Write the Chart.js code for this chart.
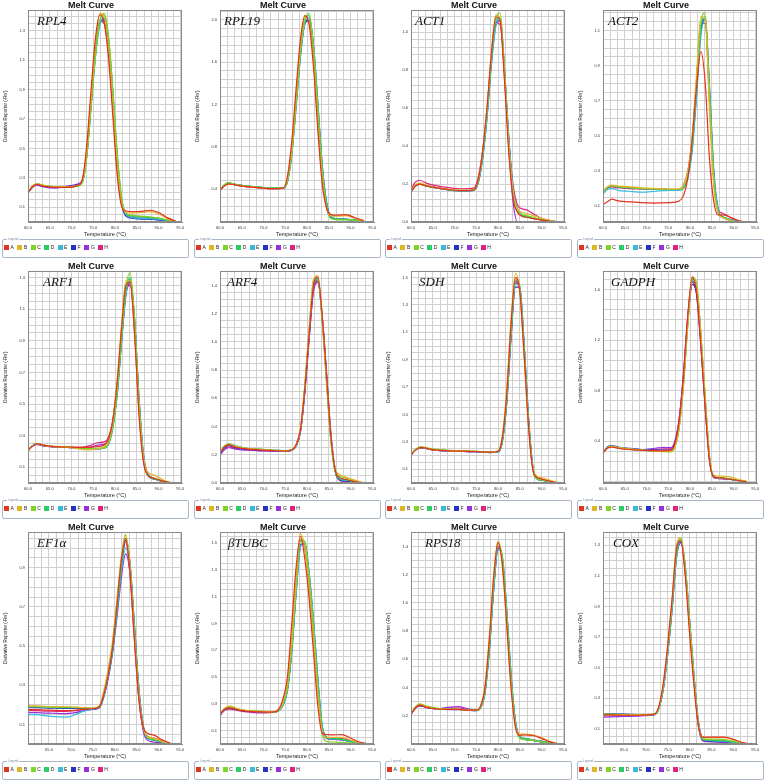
<!DOCTYPE html>
<html>
<head>
<meta charset="utf-8">
<script src="https://cdn.jsdelivr.net/npm/chart.js@4.4.0/dist/chart.umd.min.js"></script>
<style>
body{margin:0;background:#fff;width:766px;height:784px;position:relative;overflow:hidden;font-family:"Liberation Sans",Arial,sans-serif}
.panel{position:absolute;width:191px;height:261px}
.panel canvas{position:absolute;left:0;top:0}
.legend{position:absolute;left:2px;top:239px;width:187px;height:19px;border:1px solid #a9b7c6;border-radius:2px;box-sizing:border-box}
.legend .cap{position:absolute;left:4px;top:-3px;font-size:3px;line-height:4px;color:#7a8a9a;background:#fff;padding:0 1px}
.legend .item{position:absolute;top:5px;font-size:5px;line-height:5px;color:#222;white-space:nowrap}
.legend .sw{display:inline-block;width:5px;height:5px;vertical-align:top;margin-right:1.5px}
</style>
</head>
<body>
<script>
// ---- wells ----
const wellNames = ['A','B','C','D','E','F','G','H'];
const wellColors = ['#e3321e','#e2b526','#7fd425','#2fca68','#36bbdc','#2133c4','#982fdc','#e0237f'];

// ---- panels ----
const genes = ['RPL4','RPL19','ACT1','ACT2','ARF1','ARF4','SDH','GADPH','EF1α','βTUBC','RPS18','COX'];
const yMins = [0, 0.09, 0, 0.01, 0, 0, 0, 0.07, 0, 0, 0, 0];
const yMaxs = [1.44, 2.09, 1.115, 1.215, 1.34, 1.5, 1.545, 1.745, 1.08, 1.58, 1.5, 1.385];
const yGrid = [0.05, 0.08, 0.04, 0.05, 0.05, 0.05, 0.05, 0.08, 0.05, 0.05, 0.05, 0.05];
const yLabelFrom = [0.1, 0.4, 0, 0.1, 0.1, 0, 0.1, 0.4, 0.1, 0.1, 0.2, 0.1];
const yLabelStep = [0.2, 0.4, 0.2, 0.2, 0.2, 0.2, 0.2, 0.4, 0.2, 0.2, 0.2, 0.2];
const xMins = [60, 60, 60, 60, 60, 60, 60, 60, 60.2, 60, 60, 60.2];
const xMax = 95.4;
const xGrid = 5 / 3;
const xTickLabels = [60, 65, 70, 75, 80, 85, 90, 95];

// ---- melt curves (temperature °C, derivative reporter per well A..H) ----
const tempRPL4 = [60,61,62,63.5,66,69,71.5,72.5,73.5,74.5,75.5,76.5,77.5,78.5,79.5,80.5,81.5,82.5,84,86,88,90,92,94];
const wellsRPL4 = [
  [0.20,0.24,0.255,0.245,0.235,0.235,0.25,0.29,0.52,0.90,1.25,1.41,1.36,1.12,0.72,0.32,0.11,0.075,0.07,0.072,0.08,0.065,0.03,0.005],
  [0.205,0.245,0.26,0.25,0.24,0.24,0.25,0.28,0.48,0.85,1.22,1.42,1.40,1.18,0.80,0.38,0.13,0.065,0.06,0.065,0.07,0.055,0.025,0.004],
  [0.20,0.24,0.26,0.25,0.24,0.235,0.245,0.27,0.44,0.78,1.13,1.36,1.42,1.27,0.90,0.47,0.17,0.06,0.045,0.04,0.035,0.028,0.014,0.0],
  [0.20,0.24,0.26,0.25,0.24,0.235,0.245,0.27,0.45,0.80,1.15,1.37,1.41,1.25,0.88,0.45,0.16,0.06,0.04,0.035,0.03,0.025,0.012,0.0],
  [0.20,0.24,0.26,0.25,0.24,0.24,0.25,0.27,0.44,0.78,1.12,1.34,1.39,1.25,0.90,0.47,0.17,0.05,0.03,0.025,0.022,0.018,0.01,0.0],
  [0.20,0.235,0.255,0.245,0.235,0.24,0.255,0.28,0.45,0.79,1.13,1.35,1.38,1.22,0.86,0.42,0.14,0.04,0.025,0.02,0.02,0.015,0.008,0.0],
  [0.20,0.235,0.25,0.24,0.23,0.245,0.26,0.29,0.47,0.82,1.16,1.36,1.37,1.20,0.84,0.41,0.14,0.045,0.03,0.025,0.02,0.015,0.008,0.0],
  [0.20,0.24,0.255,0.245,0.235,0.24,0.25,0.28,0.48,0.84,1.18,1.37,1.35,1.15,0.78,0.36,0.12,0.05,0.04,0.035,0.03,0.025,0.012,0.0]
];

const tempRPL19 = [60,61,62,63.5,66,69,72,74.5,75.5,76.5,77.5,78.5,79.5,80.5,81.5,82.5,83.5,84.5,85.5,87,89,91,93];
const wellsRPL19 = [
  [0.39,0.43,0.45,0.44,0.425,0.415,0.405,0.41,0.52,0.85,1.35,1.82,2.04,1.95,1.55,0.95,0.45,0.22,0.16,0.155,0.16,0.13,0.105],
  [0.39,0.43,0.45,0.44,0.425,0.415,0.405,0.41,0.50,0.80,1.30,1.78,2.03,1.98,1.60,1.00,0.48,0.22,0.15,0.145,0.15,0.125,0.10],
  [0.39,0.44,0.46,0.445,0.43,0.42,0.41,0.41,0.48,0.74,1.20,1.70,2.0,2.06,1.74,1.16,0.58,0.24,0.12,0.11,0.11,0.105,0.1],
  [0.39,0.44,0.46,0.445,0.43,0.42,0.41,0.41,0.48,0.75,1.22,1.70,2.0,2.04,1.74,1.17,0.59,0.25,0.13,0.12,0.115,0.108,0.1],
  [0.39,0.44,0.455,0.445,0.43,0.42,0.41,0.41,0.47,0.72,1.18,1.66,1.97,2.02,1.76,1.20,0.62,0.27,0.14,0.12,0.115,0.108,0.1],
  [0.39,0.44,0.46,0.445,0.43,0.42,0.41,0.41,0.47,0.73,1.18,1.66,1.96,2.0,1.76,1.21,0.63,0.28,0.14,0.12,0.115,0.108,0.1],
  [0.39,0.435,0.455,0.44,0.425,0.415,0.405,0.41,0.48,0.76,1.23,1.70,1.98,1.99,1.70,1.13,0.56,0.24,0.13,0.12,0.115,0.108,0.1],
  [0.39,0.435,0.45,0.44,0.425,0.415,0.405,0.41,0.49,0.78,1.26,1.74,2.0,1.98,1.66,1.08,0.53,0.23,0.13,0.12,0.115,0.108,0.1]
];

const tempACT1 = [60,61,62,63.5,66,69,72,74.5,75.5,76.5,77.5,78.5,79.5,80.5,81.5,82.5,83.5,84.5,85.5,86.5,88,90,92,94];
const wellsACT1 = [
  [0.16,0.19,0.20,0.19,0.18,0.17,0.165,0.17,0.23,0.38,0.61,0.89,1.08,1.06,0.74,0.36,0.12,0.05,0.03,0.025,0.018,0.01,0.004,0.0],
  [0.16,0.195,0.205,0.195,0.18,0.172,0.168,0.172,0.23,0.38,0.61,0.90,1.09,1.07,0.77,0.39,0.15,0.07,0.05,0.045,0.035,0.02,0.008,0.0],
  [0.16,0.19,0.20,0.19,0.18,0.17,0.165,0.17,0.22,0.37,0.59,0.88,1.08,1.10,0.80,0.41,0.15,0.06,0.04,0.035,0.025,0.014,0.006,0.0],
  [0.16,0.19,0.20,0.19,0.18,0.17,0.165,0.17,0.22,0.36,0.58,0.86,1.06,1.08,0.78,0.40,0.14,0.06,0.035,0.03,0.02,0.012,0.005,0.0],
  [0.16,0.19,0.20,0.19,0.178,0.168,0.163,0.168,0.21,0.34,0.55,0.83,1.03,1.07,0.81,0.44,0.17,0.07,0.04,0.03,0.02,0.012,0.005,0.0],
  [0.16,0.19,0.20,0.19,0.178,0.168,0.163,0.168,0.21,0.34,0.56,0.84,1.04,1.07,0.80,0.43,0.16,0.06,0.035,0.028,0.02,0.012,0.005,0.0],
  [0.16,0.19,0.20,0.19,0.18,0.17,0.165,0.17,0.22,0.36,0.58,0.86,1.05,1.06,0.77,0.38,0.10,0.0,0.0,0.0,0.0,0.0,0.0,0.0],
  [0.17,0.21,0.22,0.205,0.19,0.18,0.175,0.18,0.24,0.38,0.60,0.88,1.05,1.04,0.78,0.43,0.19,0.09,0.07,0.065,0.045,0.02,0.008,0.0]
];

const tempACT2 = [60,61,62,63.5,66,69,72,75,77.5,78.5,79.5,80.5,81.5,82.5,83.5,84.5,85.5,86.5,87.5,89,91,93];
const wellsACT2 = [
  [0.11,0.125,0.14,0.13,0.125,0.12,0.118,0.12,0.13,0.16,0.26,0.48,0.78,0.98,0.80,0.36,0.12,0.05,0.05,0.04,0.02,0.008],
  [0.18,0.21,0.22,0.215,0.21,0.205,0.20,0.198,0.198,0.22,0.30,0.50,0.85,1.18,1.16,0.64,0.20,0.06,0.035,0.02,0.01,0.004],
  [0.18,0.21,0.215,0.21,0.205,0.20,0.198,0.195,0.195,0.21,0.29,0.47,0.80,1.15,1.20,0.72,0.24,0.06,0.035,0.022,0.01,0.004],
  [0.18,0.205,0.215,0.21,0.205,0.20,0.198,0.195,0.195,0.21,0.28,0.45,0.78,1.12,1.18,0.72,0.25,0.07,0.04,0.025,0.012,0.005],
  [0.17,0.195,0.20,0.19,0.185,0.18,0.185,0.19,0.19,0.20,0.26,0.41,0.72,1.07,1.16,0.76,0.28,0.08,0.04,0.025,0.012,0.005],
  [0.18,0.205,0.215,0.21,0.205,0.20,0.198,0.195,0.195,0.205,0.27,0.43,0.74,1.09,1.17,0.77,0.29,0.08,0.04,0.025,0.012,0.005],
  [0.18,0.205,0.215,0.21,0.205,0.20,0.198,0.195,0.195,0.21,0.28,0.45,0.77,1.11,1.16,0.72,0.25,0.07,0.04,0.025,0.012,0.005],
  [0.18,0.205,0.21,0.205,0.20,0.198,0.196,0.195,0.196,0.22,0.30,0.49,0.82,1.14,1.14,0.68,0.24,0.08,0.06,0.04,0.015,0.005]
];

const tempARF1 = [60,61,62,63.5,66,69,72,74,76,77.5,78.5,79.5,80.5,81.5,82.5,83.5,84.5,85.5,86.5,87.5,89,91,93];
const wellsARF1 = [
  [0.205,0.235,0.25,0.24,0.23,0.228,0.225,0.225,0.23,0.24,0.28,0.40,0.64,0.98,1.25,1.27,0.94,0.44,0.14,0.05,0.03,0.012,0.0],
  [0.205,0.235,0.25,0.24,0.23,0.226,0.215,0.21,0.22,0.23,0.27,0.40,0.65,1.00,1.28,1.28,0.95,0.47,0.17,0.07,0.05,0.02,0.002],
  [0.205,0.235,0.25,0.24,0.232,0.23,0.222,0.22,0.218,0.222,0.25,0.36,0.58,0.92,1.24,1.33,1.04,0.53,0.17,0.05,0.03,0.01,0.0],
  [0.205,0.235,0.25,0.24,0.23,0.228,0.222,0.22,0.218,0.222,0.25,0.36,0.58,0.92,1.22,1.30,1.02,0.52,0.17,0.05,0.025,0.01,0.0],
  [0.205,0.235,0.248,0.238,0.23,0.228,0.222,0.22,0.218,0.22,0.245,0.35,0.56,0.89,1.19,1.29,1.04,0.55,0.19,0.06,0.03,0.01,0.0],
  [0.205,0.235,0.248,0.238,0.23,0.226,0.22,0.218,0.216,0.22,0.245,0.35,0.56,0.89,1.19,1.28,1.04,0.55,0.19,0.06,0.03,0.01,0.0],
  [0.205,0.232,0.245,0.235,0.228,0.225,0.222,0.225,0.24,0.245,0.27,0.37,0.58,0.91,1.20,1.26,0.99,0.50,0.16,0.05,0.025,0.01,0.0],
  [0.205,0.232,0.245,0.235,0.228,0.225,0.225,0.235,0.255,0.26,0.29,0.40,0.62,0.95,1.22,1.25,0.96,0.46,0.15,0.05,0.025,0.01,0.0]
];

const tempARF4 = [60,61,62,63.5,66,69,72,75,76.5,77.5,78.5,79.5,80.5,81.5,82.5,83.5,84.5,85.5,86.5,87.5,89,91,93];
const wellsARF4 = [
  [0.215,0.255,0.27,0.255,0.242,0.235,0.23,0.226,0.235,0.27,0.38,0.67,1.06,1.40,1.46,1.18,0.76,0.33,0.09,0.04,0.025,0.01,0.0],
  [0.215,0.26,0.275,0.26,0.245,0.238,0.232,0.228,0.236,0.275,0.39,0.70,1.10,1.44,1.47,1.16,0.73,0.32,0.10,0.06,0.04,0.02,0.002],
  [0.215,0.26,0.278,0.262,0.246,0.24,0.232,0.228,0.235,0.27,0.38,0.69,1.09,1.44,1.46,1.14,0.70,0.29,0.08,0.05,0.035,0.015,0.0],
  [0.215,0.26,0.275,0.26,0.245,0.238,0.232,0.228,0.235,0.27,0.38,0.68,1.08,1.42,1.44,1.15,0.72,0.30,0.08,0.03,0.02,0.01,0.0],
  [0.215,0.262,0.28,0.265,0.248,0.24,0.234,0.23,0.235,0.268,0.37,0.66,1.05,1.40,1.45,1.17,0.75,0.33,0.09,0.03,0.02,0.01,0.0],
  [0.21,0.25,0.265,0.252,0.24,0.234,0.23,0.226,0.232,0.266,0.37,0.66,1.05,1.40,1.44,1.16,0.73,0.31,0.08,0.025,0.015,0.008,0.0],
  [0.20,0.235,0.25,0.24,0.232,0.228,0.226,0.224,0.23,0.262,0.36,0.64,1.02,1.36,1.42,1.18,0.78,0.35,0.09,0.02,0.01,0.005,0.0],
  [0.205,0.24,0.255,0.245,0.236,0.23,0.228,0.225,0.232,0.265,0.37,0.65,1.03,1.37,1.43,1.18,0.77,0.34,0.08,0.02,0.01,0.005,0.0]
];

const tempSDH = [60,61,62.3,64,66,69,72,75,78,80,81,82,83,84,85,86,87,88,89,90,92,94];
const wellsSDH = [
  [0.205,0.24,0.26,0.25,0.24,0.235,0.232,0.23,0.225,0.232,0.33,0.65,1.16,1.50,1.40,0.94,0.42,0.10,0.04,0.03,0.012,0.0],
  [0.205,0.24,0.26,0.25,0.24,0.235,0.232,0.23,0.226,0.235,0.35,0.68,1.20,1.53,1.40,0.92,0.42,0.11,0.05,0.04,0.02,0.002],
  [0.205,0.245,0.265,0.255,0.245,0.238,0.235,0.232,0.226,0.23,0.32,0.62,1.12,1.49,1.43,0.98,0.45,0.10,0.035,0.025,0.01,0.0],
  [0.205,0.24,0.26,0.25,0.24,0.235,0.232,0.23,0.225,0.23,0.32,0.62,1.12,1.48,1.42,0.98,0.45,0.10,0.03,0.02,0.01,0.0],
  [0.205,0.24,0.26,0.25,0.24,0.235,0.232,0.23,0.224,0.226,0.30,0.58,1.07,1.45,1.44,1.02,0.48,0.12,0.03,0.02,0.01,0.0],
  [0.205,0.24,0.258,0.248,0.238,0.233,0.23,0.228,0.222,0.225,0.30,0.58,1.06,1.43,1.43,1.02,0.49,0.12,0.03,0.02,0.01,0.0],
  [0.205,0.24,0.258,0.248,0.238,0.233,0.23,0.228,0.223,0.228,0.31,0.60,1.09,1.46,1.42,0.99,0.46,0.11,0.03,0.02,0.01,0.0],
  [0.205,0.24,0.258,0.248,0.238,0.233,0.23,0.228,0.223,0.229,0.32,0.61,1.10,1.47,1.41,0.97,0.45,0.11,0.03,0.02,0.01,0.0]
];

const tempGADPH = [60,61,62,63.5,66,69,72,74,75.5,76.5,77.5,78.5,79.5,80.5,81.5,82.5,83.5,84.5,85.5,87,89,91,93];
const wellsGADPH = [
  [0.31,0.345,0.355,0.345,0.335,0.328,0.325,0.325,0.33,0.38,0.56,0.92,1.40,1.70,1.58,1.16,0.66,0.24,0.12,0.11,0.10,0.09,0.08],
  [0.31,0.35,0.36,0.35,0.34,0.33,0.322,0.32,0.318,0.355,0.51,0.85,1.33,1.69,1.64,1.24,0.74,0.28,0.13,0.125,0.12,0.10,0.085],
  [0.31,0.35,0.36,0.35,0.34,0.33,0.322,0.318,0.316,0.35,0.50,0.84,1.32,1.70,1.66,1.26,0.75,0.28,0.12,0.11,0.105,0.09,0.08],
  [0.31,0.35,0.36,0.35,0.34,0.33,0.325,0.322,0.32,0.36,0.52,0.86,1.34,1.68,1.62,1.22,0.72,0.26,0.12,0.11,0.10,0.09,0.08],
  [0.31,0.35,0.362,0.35,0.34,0.33,0.325,0.322,0.32,0.355,0.51,0.85,1.33,1.67,1.63,1.24,0.74,0.27,0.12,0.11,0.10,0.09,0.08],
  [0.31,0.355,0.365,0.355,0.345,0.335,0.33,0.33,0.33,0.37,0.54,0.88,1.35,1.64,1.58,1.20,0.71,0.26,0.12,0.11,0.10,0.09,0.08],
  [0.31,0.35,0.36,0.35,0.34,0.335,0.345,0.352,0.35,0.40,0.58,0.94,1.40,1.66,1.56,1.15,0.66,0.24,0.11,0.105,0.10,0.09,0.08],
  [0.31,0.345,0.355,0.345,0.335,0.33,0.335,0.34,0.34,0.39,0.57,0.92,1.38,1.66,1.57,1.17,0.68,0.25,0.115,0.105,0.10,0.09,0.08]
];

const tempEF1a = [60,62,64,66,68,69.5,71,73,75,76.5,77.5,78.5,79.5,80.5,81.5,82.5,83.5,84.5,85.5,86.5,87.5,89,91,93];
const wellsEF1a = [
  [0.175,0.175,0.173,0.172,0.17,0.17,0.172,0.178,0.18,0.19,0.25,0.35,0.49,0.70,0.93,1.05,0.88,0.54,0.24,0.09,0.055,0.045,0.02,0.002],
  [0.195,0.195,0.192,0.19,0.19,0.19,0.188,0.186,0.183,0.195,0.27,0.38,0.52,0.73,0.95,1.07,0.90,0.56,0.26,0.09,0.04,0.03,0.012,0.0],
  [0.192,0.192,0.19,0.189,0.188,0.188,0.187,0.185,0.182,0.19,0.26,0.37,0.51,0.72,0.94,1.065,0.92,0.58,0.27,0.09,0.035,0.025,0.01,0.0],
  [0.19,0.19,0.188,0.187,0.186,0.185,0.185,0.184,0.182,0.19,0.25,0.35,0.48,0.68,0.90,1.05,0.92,0.60,0.28,0.09,0.03,0.02,0.01,0.0],
  [0.15,0.15,0.145,0.14,0.137,0.138,0.15,0.168,0.178,0.185,0.24,0.34,0.47,0.66,0.87,1.0,0.90,0.60,0.29,0.10,0.03,0.02,0.01,0.0],
  [0.185,0.185,0.184,0.183,0.182,0.182,0.182,0.18,0.178,0.185,0.24,0.34,0.47,0.67,0.89,1.04,0.93,0.62,0.30,0.10,0.03,0.02,0.01,0.0],
  [0.16,0.16,0.158,0.157,0.155,0.156,0.16,0.17,0.176,0.185,0.24,0.33,0.46,0.64,0.84,0.97,0.87,0.56,0.25,0.07,0.02,0.01,0.005,0.0],
  [0.17,0.17,0.168,0.167,0.166,0.167,0.17,0.176,0.18,0.19,0.25,0.35,0.48,0.69,0.91,1.03,0.87,0.54,0.24,0.08,0.04,0.03,0.015,0.0]
];

const tempTUBC = [60,61,62.3,64,66,69,72,73.5,74.5,75.5,76.5,77.5,78.5,79.5,80.5,81.5,82.5,83.5,84.5,86,88,90,92,94];
const wellsTUBC = [
  [0.22,0.26,0.27,0.255,0.245,0.24,0.238,0.26,0.34,0.50,0.90,1.32,1.55,1.38,1.08,0.68,0.28,0.08,0.07,0.068,0.07,0.045,0.015,0.0],
  [0.22,0.265,0.285,0.265,0.25,0.245,0.24,0.255,0.32,0.46,0.80,1.24,1.57,1.46,1.16,0.78,0.36,0.09,0.05,0.05,0.05,0.03,0.01,0.0],
  [0.22,0.26,0.275,0.26,0.25,0.245,0.238,0.25,0.30,0.42,0.72,1.17,1.53,1.51,1.24,0.86,0.42,0.08,0.02,0.015,0.012,0.008,0.004,0.0],
  [0.22,0.26,0.275,0.26,0.25,0.245,0.238,0.25,0.30,0.42,0.72,1.16,1.52,1.50,1.25,0.88,0.45,0.12,0.045,0.04,0.035,0.02,0.008,0.0],
  [0.22,0.26,0.27,0.258,0.25,0.24,0.236,0.248,0.29,0.40,0.69,1.12,1.47,1.51,1.28,0.92,0.49,0.14,0.05,0.04,0.03,0.02,0.008,0.0],
  [0.22,0.255,0.268,0.255,0.245,0.24,0.236,0.248,0.29,0.40,0.69,1.13,1.48,1.50,1.27,0.91,0.48,0.13,0.05,0.04,0.03,0.02,0.008,0.0],
  [0.22,0.255,0.268,0.255,0.245,0.24,0.236,0.248,0.30,0.41,0.71,1.15,1.49,1.49,1.24,0.87,0.44,0.12,0.04,0.035,0.03,0.02,0.008,0.0],
  [0.21,0.25,0.26,0.25,0.24,0.232,0.236,0.25,0.31,0.44,0.76,1.20,1.52,1.46,1.18,0.80,0.40,0.11,0.05,0.045,0.04,0.025,0.01,0.0]
];

const tempRPS18 = [60,61,62,63.5,66,69,71,73,75,76,77,78,79,80,81,82,83,84,85,86,88,90,92,94];
const wellsRPS18 = [
  [0.21,0.255,0.275,0.26,0.248,0.245,0.245,0.24,0.24,0.27,0.40,0.74,1.18,1.43,1.27,0.85,0.40,0.12,0.06,0.065,0.06,0.04,0.015,0.0],
  [0.21,0.26,0.28,0.265,0.25,0.245,0.245,0.24,0.24,0.27,0.41,0.76,1.20,1.44,1.26,0.84,0.40,0.13,0.07,0.07,0.065,0.045,0.018,0.0],
  [0.21,0.265,0.285,0.27,0.255,0.248,0.245,0.24,0.238,0.26,0.38,0.70,1.14,1.43,1.32,0.92,0.46,0.14,0.04,0.03,0.025,0.015,0.006,0.0],
  [0.21,0.26,0.28,0.265,0.25,0.245,0.245,0.24,0.238,0.26,0.38,0.70,1.14,1.42,1.30,0.90,0.45,0.15,0.05,0.04,0.03,0.02,0.008,0.0],
  [0.21,0.26,0.28,0.265,0.25,0.245,0.245,0.24,0.236,0.255,0.36,0.66,1.09,1.38,1.33,0.96,0.50,0.17,0.05,0.035,0.025,0.015,0.006,0.0],
  [0.21,0.255,0.272,0.26,0.248,0.244,0.244,0.24,0.236,0.255,0.36,0.66,1.09,1.38,1.32,0.95,0.49,0.16,0.05,0.035,0.025,0.015,0.006,0.0],
  [0.21,0.255,0.272,0.26,0.25,0.262,0.265,0.25,0.24,0.26,0.37,0.68,1.11,1.39,1.30,0.92,0.46,0.15,0.05,0.035,0.025,0.015,0.006,0.0],
  [0.21,0.255,0.272,0.26,0.25,0.255,0.255,0.245,0.24,0.262,0.38,0.70,1.13,1.40,1.29,0.90,0.45,0.14,0.05,0.04,0.03,0.02,0.008,0.0]
];

const tempCOX = [60,62,65,68,70,72,73,74,75,76,77,78,79,80,81,82,83,84,86,88,90,92,94];
const wellsCOX = [
  [0.19,0.19,0.188,0.188,0.19,0.196,0.25,0.40,0.65,0.95,1.28,1.33,1.10,0.72,0.38,0.12,0.045,0.045,0.045,0.045,0.03,0.01,0.0],
  [0.19,0.19,0.19,0.19,0.19,0.195,0.245,0.39,0.64,0.95,1.30,1.35,1.12,0.75,0.40,0.13,0.045,0.04,0.042,0.042,0.028,0.01,0.0],
  [0.195,0.195,0.192,0.19,0.19,0.195,0.24,0.38,0.62,0.92,1.26,1.35,1.16,0.80,0.43,0.13,0.035,0.03,0.03,0.028,0.018,0.006,0.0],
  [0.19,0.192,0.19,0.19,0.19,0.195,0.24,0.38,0.62,0.92,1.26,1.34,1.14,0.78,0.42,0.13,0.03,0.025,0.022,0.02,0.012,0.004,0.0],
  [0.19,0.192,0.19,0.19,0.19,0.194,0.235,0.36,0.59,0.88,1.22,1.33,1.17,0.82,0.45,0.15,0.035,0.025,0.02,0.018,0.01,0.004,0.0],
  [0.195,0.198,0.195,0.192,0.19,0.194,0.235,0.36,0.59,0.88,1.22,1.32,1.16,0.81,0.45,0.15,0.03,0.02,0.018,0.015,0.01,0.004,0.0],
  [0.175,0.178,0.18,0.182,0.185,0.19,0.24,0.37,0.61,0.91,1.25,1.32,1.12,0.77,0.41,0.12,0.02,0.015,0.012,0.01,0.006,0.002,0.0],
  [0.185,0.186,0.186,0.187,0.188,0.193,0.24,0.38,0.62,0.92,1.26,1.33,1.13,0.77,0.41,0.12,0.03,0.025,0.022,0.02,0.012,0.004,0.0]
];

const temps = [tempRPL4,tempRPL19,tempACT1,tempACT2,tempARF1,tempARF4,tempSDH,tempGADPH,tempEF1a,tempTUBC,tempRPS18,tempCOX];
const wells = [wellsRPL4,wellsRPL19,wellsACT1,wellsACT2,wellsARF1,wellsARF4,wellsSDH,wellsGADPH,wellsEF1a,wellsTUBC,wellsRPS18,wellsCOX];

// layout of the 4x3 grid
const colX = [0, 192, 383, 575];
const rowY = [0, 261, 522];
const geneDx = [9, 4, 4, 5, 15, 7, 8, 8, 9, 8, 14, 10];

function onStep(v, from, step){
    const q = (v - from) / step;
    return q > -1e-6 && Math.abs(q - Math.round(q)) < 1e-4;
}

// grid lines at every multiple of step inside [min, max]
function gridTicks(min, max, step){
    const out = [];
    for(let k = Math.ceil(min / step - 1e-6); k * step <= max + 1e-9; k++){
        out.push({ value: +(k * step).toFixed(6) });
    }
    return out;
}

// plot frame + gene name
const framePlugin = {
    id:'frame',
    afterDraw(chart, args, opts){
        const {ctx, chartArea:a} = chart;
        ctx.save();
        ctx.strokeStyle = '#8a8a8a';
        ctx.lineWidth = 1;
        ctx.strokeRect(Math.round(a.left)+0.5, Math.round(a.top)+0.5, Math.round(a.width)-1, Math.round(a.height)-1);
        ctx.font = 'italic 13px "Liberation Serif", "DejaVu Serif", serif';
        ctx.fillStyle = '#111';
        ctx.textBaseline = 'alphabetic';
        ctx.fillText(opts.gene, a.left + opts.dx, a.top + 15);
        ctx.restore();
    }
};

genes.forEach((gene, p)=>{
    const panel = document.createElement('div');
    panel.className = 'panel';
    panel.style.left = colX[p % 4] + 'px';
    panel.style.top = rowY[Math.floor(p / 4)] + 'px';
    const canvas = document.createElement('canvas');
    canvas.width = 191; canvas.height = 240;
    panel.appendChild(canvas);

    // legend box
    const lg = document.createElement('div');
    lg.className = 'legend';
    lg.innerHTML = '<span class="cap">Legend</span>';
    wellNames.forEach((w, k)=>{
        const it = document.createElement('span');
        it.className = 'item';
        it.style.left = (1 + k * 13.4) + 'px';
        it.innerHTML = `<span class="sw" style="background:${wellColors[k]}"></span>${w}`;
        lg.appendChild(it);
    });
    panel.appendChild(lg);
    document.body.appendChild(panel);

    const datasets = wellNames.map((w, k)=>({
        label:w,
        data: temps[p].map((t, i)=>({x:t, y:wells[p][k][i]})).filter(d=>d.y !== undefined),
        borderColor: wellColors[k],
        borderWidth: 1.2,
        pointRadius: 0,
        fill: false,
        cubicInterpolationMode: 'monotone'
    }));

    const font = { family:'"Liberation Sans", Arial, sans-serif', size:4 };

    new Chart(canvas.getContext('2d'), {
        type:'line',
        data:{ datasets },
        options:{
            responsive:false,
            devicePixelRatio:1,
            animation:false,
            layout:{ padding:{ left:0, right:9, top:0, bottom:0 } },
            plugins:{
                legend:{ display:false },
                tooltip:{ enabled:false },
                title:{ display:true, text:'Melt Curve', color:'#111', padding:{top:0,bottom:0},
                        font:{ family:'"Liberation Sans", Arial, sans-serif', size:9, weight:'bold', lineHeight:1.15 } },
                frame:{ gene, dx: geneDx[p] }
            },
            scales:{
                x:{
                    type:'linear', min:xMins[p], max:xMax,
                    afterBuildTicks: s=>{ s.ticks = gridTicks(xMins[p], xMax, xGrid); },
                    afterFit: s=>{ s.height = 18; },
                    grid:{ color:'#d0d0d0', lineWidth:1, drawTicks:false },
                    border:{ color:'#8a8a8a' },
                    ticks:{ autoSkip:false, maxRotation:0, padding:3, color:'#333', font,
                            callback: v => xTickLabels.some(t => Math.abs(t - v) < 1e-4) ? v.toFixed(1) : '' },
                    title:{ display:true, text:'Temperature (°C)', color:'#222', padding:{top:0,bottom:2},
                            font:{ family:'"Liberation Sans", Arial, sans-serif', size:5.5 } }
                },
                y:{
                    type:'linear', min:yMins[p], max:yMaxs[p],
                    afterBuildTicks: s=>{ s.ticks = gridTicks(yMins[p], yMaxs[p], yGrid[p]); },
                    afterFit: s=>{ s.width = 28; },
                    grid:{ color:'#d0d0d0', lineWidth:1, drawTicks:false },
                    border:{ color:'#8a8a8a' },
                    ticks:{ autoSkip:false, padding:3, color:'#333', font,
                            callback: v => onStep(v, yLabelFrom[p], yLabelStep[p]) ? v.toFixed(1) : '' },
                    title:{ display:true, text:"Derivative Reporter (-Rn')", color:'#222', padding:{top:3,bottom:0},
                            font:{ family:'"Liberation Sans", Arial, sans-serif', size:4.5 } }
                }
            }
        },
        plugins:[framePlugin]
    });
});
</script>
</body>
</html>
